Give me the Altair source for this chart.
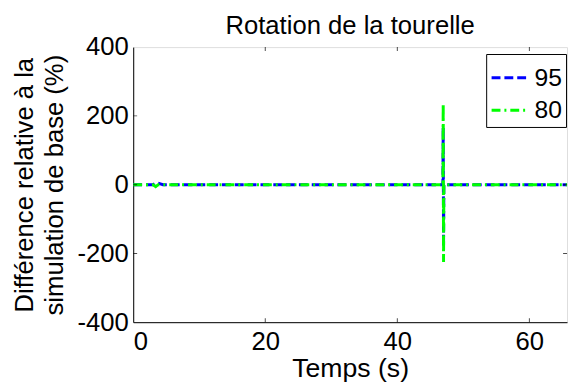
import altair as alt
import pandas as pd

# Data
series_names = ["95", "80"]
t_95 = [0, 3.0, 3.5, 4.0, 4.5, 46.9, 46.95, 47.0, 47.05, 65.7]
v_95 = [0, 0, 6, 3, 0, 0, 165, -180, 0, 0]
t_80 = [0, 3.0, 3.4, 3.8, 46.9, 46.95, 47.0, 47.05, 65.7]
v_80 = [0, 0, -6, 0, 0, 235, -225, 0, 0]

x_ticks = [0, 20, 40, 60]
y_ticks = [-400, -200, 0, 200, 400]
x_domain = [0, 65.7]
y_domain = [-400, 400]

colors = ["#0000ff", "#00ff00"]
dashes = [[9, 4], [9, 4, 2, 4]]

FONT = "Liberation Sans"

df = pd.concat([
    pd.DataFrame({"t": t_95, "v": v_95, "series": "95", "k": range(len(t_95))}),
    pd.DataFrame({"t": t_80, "v": v_80, "series": "80", "k": range(len(t_80))}),
])

xs = alt.Scale(domain=x_domain, nice=False, zero=False)
ys = alt.Scale(domain=y_domain, nice=False, zero=False)

legend = alt.Legend(
    orient="none", legendX=358, legendY=7, title=None,
    labelFontSize=25, labelFont=FONT, labelColor="black",
    symbolType="stroke", symbolSize=1369, symbolStrokeWidth=3,
    strokeColor="black", fillColor="white", padding=4,
    rowPadding=0, labelOffset=5, symbolOffset=0,
)
color_enc = alt.Color("series:N", scale=alt.Scale(domain=series_names, range=colors), legend=legend)
dash_enc = alt.StrokeDash("series:N", scale=alt.Scale(domain=series_names, range=dashes), legend=legend)

HYPHEN = "replace(datum.label, '\u2212', '-')"

x_axis = alt.Axis(values=x_ticks, ticks=False, tickSize=0, grid=False,
                  labelFontSize=26, labelFont=FONT, labelColor="black",
                  labelPadding=7, domainColor="black",
                  title="Temps (s)", titleFontSize=27, titleFont=FONT,
                  titleFontWeight="normal", titleColor="black", titlePadding=1)
y_axis = alt.Axis(values=y_ticks, ticks=False, tickSize=0, grid=False,
                  labelFontSize=26, labelFont=FONT, labelColor="black",
                  labelPadding=5, domainColor="black", labelExpr=HYPHEN,
                  title=["Différence relative à la", "simulation de base (%)"],
                  titleFontSize=26, titleFont=FONT, titleFontWeight="normal",
                  titleColor="black", titlePadding=10, titleLineHeight=30)

base = alt.Chart(df)
line95 = base.transform_filter(alt.datum.series == "95").mark_line(strokeWidth=3).encode(
    x=alt.X("t:Q", scale=xs, axis=x_axis),
    y=alt.Y("v:Q", scale=ys, axis=y_axis),
    color=color_enc, strokeDash=dash_enc, order="k:Q",
)
line80 = base.transform_filter(alt.datum.series == "80").mark_line(strokeWidth=3).encode(
    x=alt.X("t:Q", scale=xs, axis=x_axis),
    y=alt.Y("v:Q", scale=ys, axis=y_axis),
    color=color_enc, strokeDash=dash_enc, order="k:Q",
)

xt = pd.DataFrame({"x": x_ticks[1:]})
yt = pd.DataFrame({"y": y_ticks[1:-1]})
tick_bottom = alt.Chart(xt).mark_tick(orient="vertical", clip=True, size=8, thickness=1, color="black").encode(
    x=alt.X("x:Q", scale=xs), y=alt.datum(y_domain[0], scale=ys))
tick_top = alt.Chart(xt).mark_tick(orient="vertical", clip=True, size=8, thickness=1, color="black").encode(
    x=alt.X("x:Q", scale=xs), y=alt.datum(y_domain[1], scale=ys))
tick_left = alt.Chart(yt).mark_tick(orient="horizontal", clip=True, size=8, thickness=1, color="black").encode(
    y=alt.Y("y:Q", scale=ys), x=alt.datum(x_domain[0], scale=xs))
tick_right = alt.Chart(yt).mark_tick(orient="horizontal", clip=True, size=8, thickness=1, color="black").encode(
    y=alt.Y("y:Q", scale=ys), x=alt.datum(x_domain[1], scale=xs))

chart = alt.layer(line95, line80, tick_bottom, tick_top, tick_left, tick_right).properties(
    width=440, height=279,
    title=alt.Title("Rotation de la tourelle", fontSize=26, font=FONT,
                    fontWeight="normal", color="black", offset=0, dy=5),
    autosize=alt.AutoSizeParams(type="none"),
    padding={"left": 127, "top": 37, "right": 1, "bottom": 58},
).configure_view(stroke="black", strokeWidth=1).configure(background="white")

chart.save("out.html", embed_options={"renderer": "svg", "actions": False})
